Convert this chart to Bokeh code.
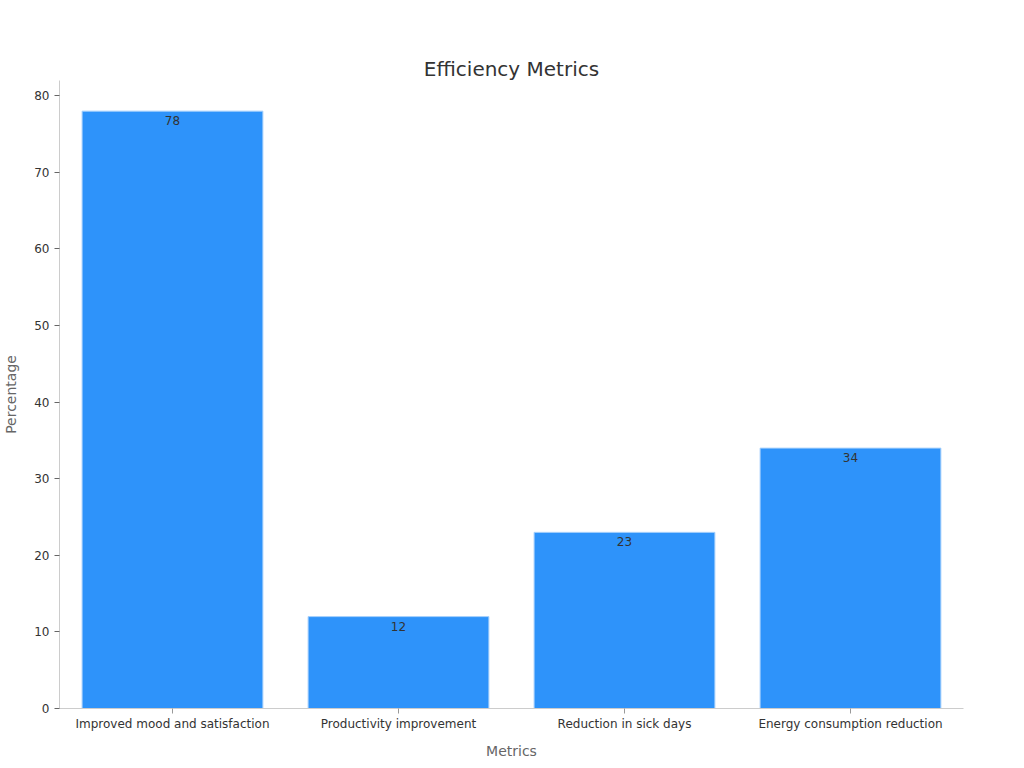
from bokeh.plotting import figure
from bokeh.models import ColumnDataSource, Range1d, Title
from bokeh.core.properties import value
from bokeh.embed import file_html
from bokeh.resources import INLINE

categories = ["Improved mood and satisfaction", "Productivity improvement",
              "Reduction in sick days", "Energy consumption reduction"]
values = [78, 12, 23, 34]
labels = [str(v) for v in values]
title_text = "Efficiency Metrics"

src = ColumnDataSource(dict(cat=categories, val=values, lab=labels))

FONT = "DejaVu Sans"

p = figure(x_range=categories, y_range=Range1d(0, 82), width=1008, height=762,
           output_backend="svg", toolbar_location=None)
p.title = None
p.min_border_left = 51
p.min_border_right = 45
p.min_border_top = 80
p.min_border_bottom = 54
p.outline_line_color = None
p.xgrid.grid_line_color = None
p.ygrid.grid_line_color = None

p.vbar(x="cat", top="val", width=0.8, source=src, fill_color="#2E93FA",
       line_color="#A8D1FC", line_width=1)
p.text(x="cat", y="val", text="lab", source=src, text_align="center",
       text_baseline="top", y_offset=5, text_font=value(FONT),
       text_font_size="12px", text_color="#333333")

# real title first (outer), then an invisible spacer next to the frame
p.add_layout(Title(text=title_text, align="center",
                   text_font=FONT, text_font_size="20px", text_font_style="normal",
                   text_color="#333333", offset=0, standoff=0), "above")
p.add_layout(Title(text=" ", text_font_size="20px", standoff=12,
                   text_color=None), "above")

for ax in (p.xaxis, p.yaxis):
    ax.axis_line_color = "#cccccc"
    ax.major_label_text_font = FONT
    ax.major_label_text_font_size = "12px"
    ax.major_label_text_color = "#333333"
    ax.axis_label_text_font = FONT
    ax.axis_label_text_font_size = "14px"
    ax.axis_label_text_font_style = "normal"
    ax.axis_label_text_color = "#666666"
    ax.minor_tick_line_color = None
    ax.major_tick_in = 0
    ax.major_tick_out = 5

p.xaxis.axis_label = "Metrics"
p.yaxis.axis_label = "Percentage"
p.xaxis.major_tick_line_color = "#999999"
p.yaxis.major_tick_line_color = "#666666"
p.yaxis.ticker = [0, 10, 20, 30, 40, 50, 60, 70, 80]
p.xaxis.major_label_standoff = 3
p.xaxis.axis_label_standoff = 9
p.yaxis.axis_label_standoff = 12

open("out.html", "w").write(file_html(p, INLINE))
